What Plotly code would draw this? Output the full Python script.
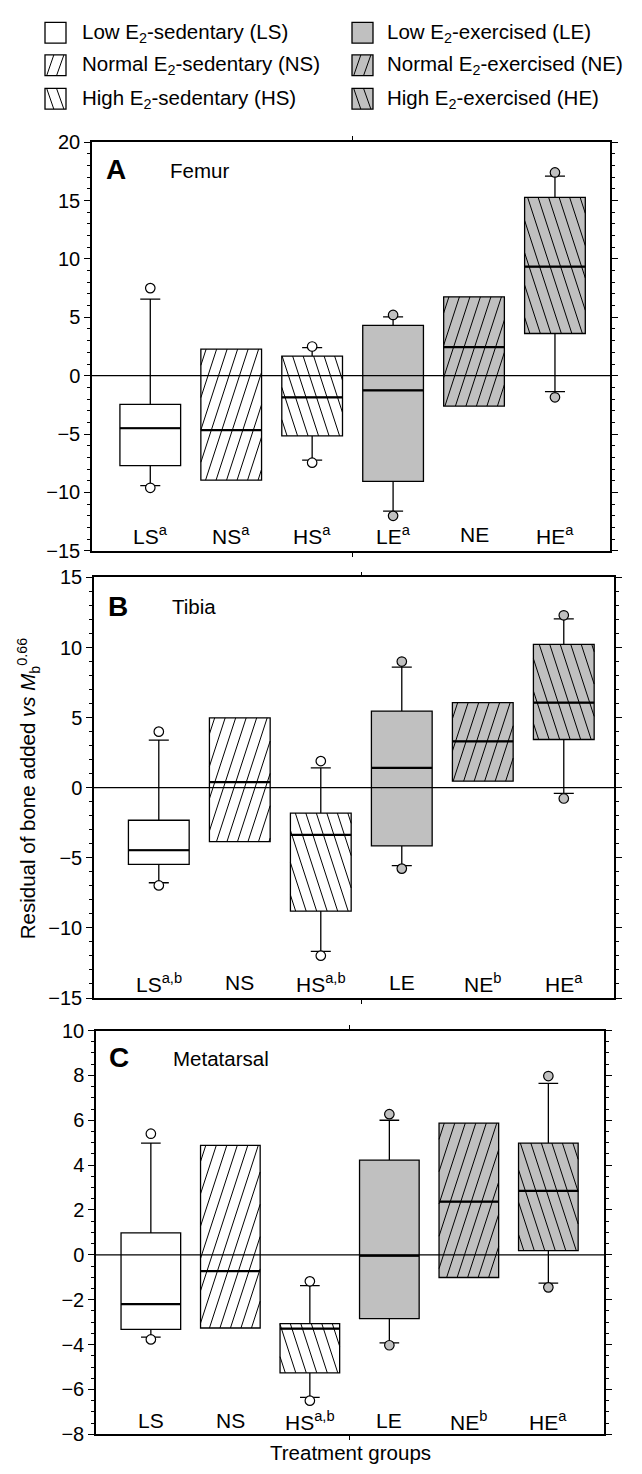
import plotly.graph_objects as go

# ---------------- data ----------------
groups = ["LS", "NS", "HS", "LE", "NE", "HE"]
hatch_dir = [0, 1, -1, 0, 1, -1]          # 0 none, 1 "/", -1 "\"
fill_cols = ["white", "white", "white", "#c0c0c0", "#c0c0c0", "#c0c0c0"]

# Femur (A)
femur_q1 = [-7.7, -8.94, -5.15, -9.05, -2.6, 3.61]
femur_med = [-4.5, -4.66, -1.85, -1.26, 2.44, 9.33]
femur_q3 = [-2.46, 2.27, 1.68, 4.31, 6.75, 15.27]
femur_lo = [-9.41, -8.94, -7.23, -11.6, -2.6, -1.37]
femur_hi = [6.55, 2.27, 2.4, 5.04, 6.75, 17.09]
femur_out_lo = [-9.6, None, -7.45, -12.0, None, -1.85]
femur_out_hi = [7.5, None, 2.5, 5.2, None, 17.4]
femur_labels = ["LS<sup>a</sup>", "NS<sup>a</sup>", "HS<sup>a</sup>", "LE<sup>a</sup>", "NE", "HE<sup>a</sup>"]

# Tibia (B)
tibia_q1 = [-5.47, -3.85, -8.8, -4.15, 0.47, 3.44]
tibia_med = [-4.46, 0.4, -3.36, 1.41, 3.3, 6.07]
tibia_q3 = [-2.32, 4.98, -1.81, 5.47, 6.07, 10.23]
tibia_lo = [-6.78, -3.85, -11.67, -5.56, 0.47, -0.4]
tibia_hi = [3.4, 4.98, 1.41, 8.6, 6.07, 12.05]
tibia_out_lo = [-6.97, None, -11.98, -5.77, None, -0.77]
tibia_out_hi = [4.0, None, 1.9, 9.0, None, 12.3]
tibia_labels = ["LS<sup>a,b</sup>", "NS", "HS<sup>a,b</sup>", "LE", "NE<sup>b</sup>", "HE<sup>a</sup>"]

# Metatarsal (C)
meta_q1 = [-3.32, -3.26, -5.26, -2.84, -1.01, 0.19]
meta_med = [-2.2, -0.73, -3.29, -0.04, 2.37, 2.85]
meta_q3 = [0.98, 4.88, -3.07, 4.22, 5.87, 4.98]
meta_lo = [-3.67, -3.26, -6.35, -3.92, -1.01, -1.26]
meta_hi = [4.98, 4.88, -1.37, 6.0, 5.87, 7.64]
meta_out_lo = [-3.77, None, -6.5, -4.03, None, -1.45]
meta_out_hi = [5.4, None, -1.18, 6.27, None, 7.97]
meta_labels = ["LS", "NS", "HS<sup>a,b</sup>", "LE", "NE<sup>b</sup>", "HE<sup>a</sup>"]

legend_texts = [
    ("Low E<sub>2</sub>-sedentary (LS)", 0), ("Normal E<sub>2</sub>-sedentary (NS)", 1),
    ("High E<sub>2</sub>-sedentary (HS)", 2), ("Low E<sub>2</sub>-exercised (LE)", 3),
    ("Normal E<sub>2</sub>-exercised (NE)", 4), ("High E<sub>2</sub>-exercised (HE)", 5),
]

# ---------------- layout geometry ----------------
PW, PH = 642, 1474          # page size
OFF = 8                     # default body margin of the html page
W, H = PW - 2 * OFF, PH - 2 * OFF
FONT = "Liberation Sans, Arial, Helvetica, sans-serif"
BW = 0.75


def xp(px):
    return (px - OFF) / W


def yp(py):
    return 1 - (py - OFF) / H


panels = [
    dict(s="", letter="A", name="Femur", q1=femur_q1, med=femur_med, q3=femur_q3,
         lo=femur_lo, hi=femur_hi, olo=femur_out_lo, ohi=femur_out_hi, labels=femur_labels,
         yr=[-15, 20], dtick=5, minor=1, label_y=-13.6, xr=[-0.72, 5.68],
         px=(92, 610), py=(133, 548)),
    dict(s="2", letter="B", name="Tibia", q1=tibia_q1, med=tibia_med, q3=tibia_q3,
         lo=tibia_lo, hi=tibia_hi, olo=tibia_out_lo, ohi=tibia_out_hi, labels=tibia_labels,
         yr=[-15, 15], dtick=5, minor=1, label_y=-13.9, xr=[-0.80, 5.62],
         px=(94, 614), py=(575, 1002)),
    dict(s="3", letter="C", name="Metatarsal", q1=meta_q1, med=meta_med, q3=meta_q3,
         lo=meta_lo, hi=meta_hi, olo=meta_out_lo, ohi=meta_out_hi, labels=meta_labels,
         yr=[-8, 10], dtick=2, minor=0.5, label_y=-7.4, xr=[-0.69, 5.70],
         px=(96, 604), py=(1035, 1445)),
]


def hatch_lines(xc, lo, hi, d, sx, sy, k=0.32, sp=10.5):
    L = (xc - BW / 2) * sx
    R = (xc + BW / 2) * sx
    B = lo * sy
    T = hi * sy
    Hh = T - B
    xs, ys = [], []
    if d > 0:
        b = L - k * Hh + sp / 2
        bend = R
    else:
        b = L + sp / 2
        bend = R + k * Hh
    while b < bend:
        if d > 0:
            ya = B + (L - b) / k
            yb = B + (R - b) / k
        else:
            ya = B + (b - R) / k
            yb = B + (b - L) / k
        y0 = max(B, ya)
        y1 = min(T, yb)
        if y1 > y0:
            x0 = b + d * k * (y0 - B)
            x1 = b + d * k * (y1 - B)
            xs += [x0 / sx, x1 / sx, None]
            ys += [y0 / sy, y1 / sy, None]
        b += sp
    return xs, ys


fig = go.Figure()
annotations = []
shapes = []
layout_axes = {}

for p in panels:
    s = p["s"]
    xa, ya = "x" + s, "y" + s
    sx = (p["px"][1] - p["px"][0]) / (p["xr"][1] - p["xr"][0])
    sy = (p["py"][1] - p["py"][0]) / (p["yr"][1] - p["yr"][0])
    for i, g in enumerate(groups):
        fig.add_trace(go.Box(
            x=[i], q1=[p["q1"][i]], median=[p["med"][i]], q3=[p["q3"][i]],
            lowerfence=[p["lo"][i]], upperfence=[p["hi"][i]],
            width=BW, whiskerwidth=0.33, fillcolor=fill_cols[i],
            line=dict(color="black", width=1.3), boxpoints=False,
            xaxis=xa, yaxis=ya, showlegend=False, hoverinfo="skip"))
    for i, g in enumerate(groups):
        if hatch_dir[i] != 0:
            hx, hy = hatch_lines(i, p["q1"][i], p["q3"][i], hatch_dir[i], sx, sy)
            fig.add_trace(go.Scatter(x=hx, y=hy, mode="lines",
                                     line=dict(color="black", width=1),
                                     xaxis=xa, yaxis=ya, showlegend=False, hoverinfo="skip"))
        fig.add_trace(go.Scatter(x=[i - BW / 2, i + BW / 2], y=[p["med"][i]] * 2, mode="lines",
                                 line=dict(color="black", width=2.2),
                                 xaxis=xa, yaxis=ya, showlegend=False, hoverinfo="skip"))
    # outliers
    for i, g in enumerate(groups):
        vals = [v for v in (p["olo"][i], p["ohi"][i]) if v is not None]
        if vals:
            fig.add_trace(go.Scatter(
                x=[i] * len(vals), y=vals, mode="markers",
                marker=dict(symbol="circle", size=9.5, color=fill_cols[i],
                            line=dict(color="black", width=1.2)),
                xaxis=xa, yaxis=ya, showlegend=False, hoverinfo="skip"))
    # zero line
    shapes.append(dict(type="line", xref=xa + " domain", yref=ya, x0=0, x1=1, y0=0, y1=0,
                       line=dict(color="black", width=1.2), layer="above"))
    # category labels
    for i, lab in enumerate(p["labels"]):
        annotations.append(dict(x=i, y=p["label_y"], xref=xa, yref=ya, text=lab,
                                showarrow=False, font=dict(size=21, color="black", family=FONT),
                                xanchor="center", yanchor="middle"))
    annotations.append(dict(x=0.046, y=0.932, xref=xa + " domain", yref=ya + " domain",
                            text="<b>%s</b>" % p["letter"], showarrow=False,
                            font=dict(size=28, color="black", family=FONT),
                            xanchor="center", yanchor="middle"))
    annotations.append(dict(x=0.147, y=0.93, xref=xa + " domain", yref=ya + " domain",
                            text=p["name"], showarrow=False,
                            font=dict(size=20.5, color="black", family=FONT),
                            xanchor="left", yanchor="middle"))
    xname = "xaxis" + s
    yname = "yaxis" + s
    layout_axes[xname] = dict(
        domain=[xp(p["px"][0]), xp(p["px"][1])], range=p["xr"], anchor=ya,
        showline=True, linecolor="black", linewidth=1.5, mirror="ticks",
        ticks="outside", ticklen=4, tickcolor="black", tickvals=[2.5],
        showticklabels=False, showgrid=False, zeroline=False, fixedrange=True)
    layout_axes[yname] = dict(
        domain=[yp(p["py"][1]), yp(p["py"][0])], range=p["yr"], anchor=xa,
        showline=True, linecolor="black", linewidth=1.5, mirror="ticks",
        ticks="outside", ticklen=6, tickcolor="black", dtick=p["dtick"], tick0=0,
        tickfont=dict(size=20, color="black", family=FONT),
        minor=dict(dtick=p["minor"], ticks="outside", ticklen=3, tickcolor="black", showgrid=False),
        showgrid=False, zeroline=False, fixedrange=True)

# legend
row_y = [22, 55, 89]
col_sq = [45, 352]
col_tx = [80, 385]
SQ = 21
for text, gi in legend_texts:
    col = 0 if gi < 3 else 1
    row = gi % 3
    x0, x1 = col_sq[col], col_sq[col] + SQ
    y0, y1 = row_y[row] - SQ / 2, row_y[row] + SQ / 2
    shapes.append(dict(type="rect", xref="paper", yref="paper",
                       x0=xp(x0), x1=xp(x1), y0=yp(y1), y1=yp(y0),
                       fillcolor=fill_cols[gi], line=dict(color="black", width=1.3)))
    d = hatch_dir[gi]
    if d != 0:
        for a, b in ((0.08, 0.42), (0.55, 0.9)):
            xa0, xa1 = x0 + a * SQ, x0 + b * SQ
            if d > 0:
                shapes.append(dict(type="line", xref="paper", yref="paper",
                                   x0=xp(xa0), y0=yp(y1), x1=xp(xa1), y1=yp(y0),
                                   line=dict(color="black", width=1)))
            else:
                shapes.append(dict(type="line", xref="paper", yref="paper",
                                   x0=xp(xa0), y0=yp(y0), x1=xp(xa1), y1=yp(y1),
                                   line=dict(color="black", width=1)))
    annotations.append(dict(x=xp(col_tx[col]), y=yp(row_y[row]), xref="paper", yref="paper",
                            text=text, showarrow=False, xanchor="left", yanchor="middle",
                            font=dict(size=20.5, color="black", family=FONT)))

# axis titles
annotations.append(dict(x=xp(28), y=yp(790), xref="paper", yref="paper",
                        text="Residual of bone added <i>vs</i> <i>M</i><sub>b</sub><sup>0.66</sup>",
                        textangle=-90, showarrow=False, xanchor="center", yanchor="middle",
                        font=dict(size=20.5, color="black", family=FONT)))
annotations.append(dict(x=xp(350), y=yp(1463), xref="paper", yref="paper",
                        text="Treatment groups", showarrow=False, xanchor="center", yanchor="middle",
                        font=dict(size=20.5, color="black", family=FONT)))

fig.update_layout(
    width=W, height=H, margin=dict(l=0, r=0, t=0, b=0),
    paper_bgcolor="white", plot_bgcolor="white", boxmode="overlay",
    showlegend=False, annotations=annotations, shapes=shapes,
    font=dict(family=FONT, color="black"), **layout_axes)

fig.write_html("out.html")
